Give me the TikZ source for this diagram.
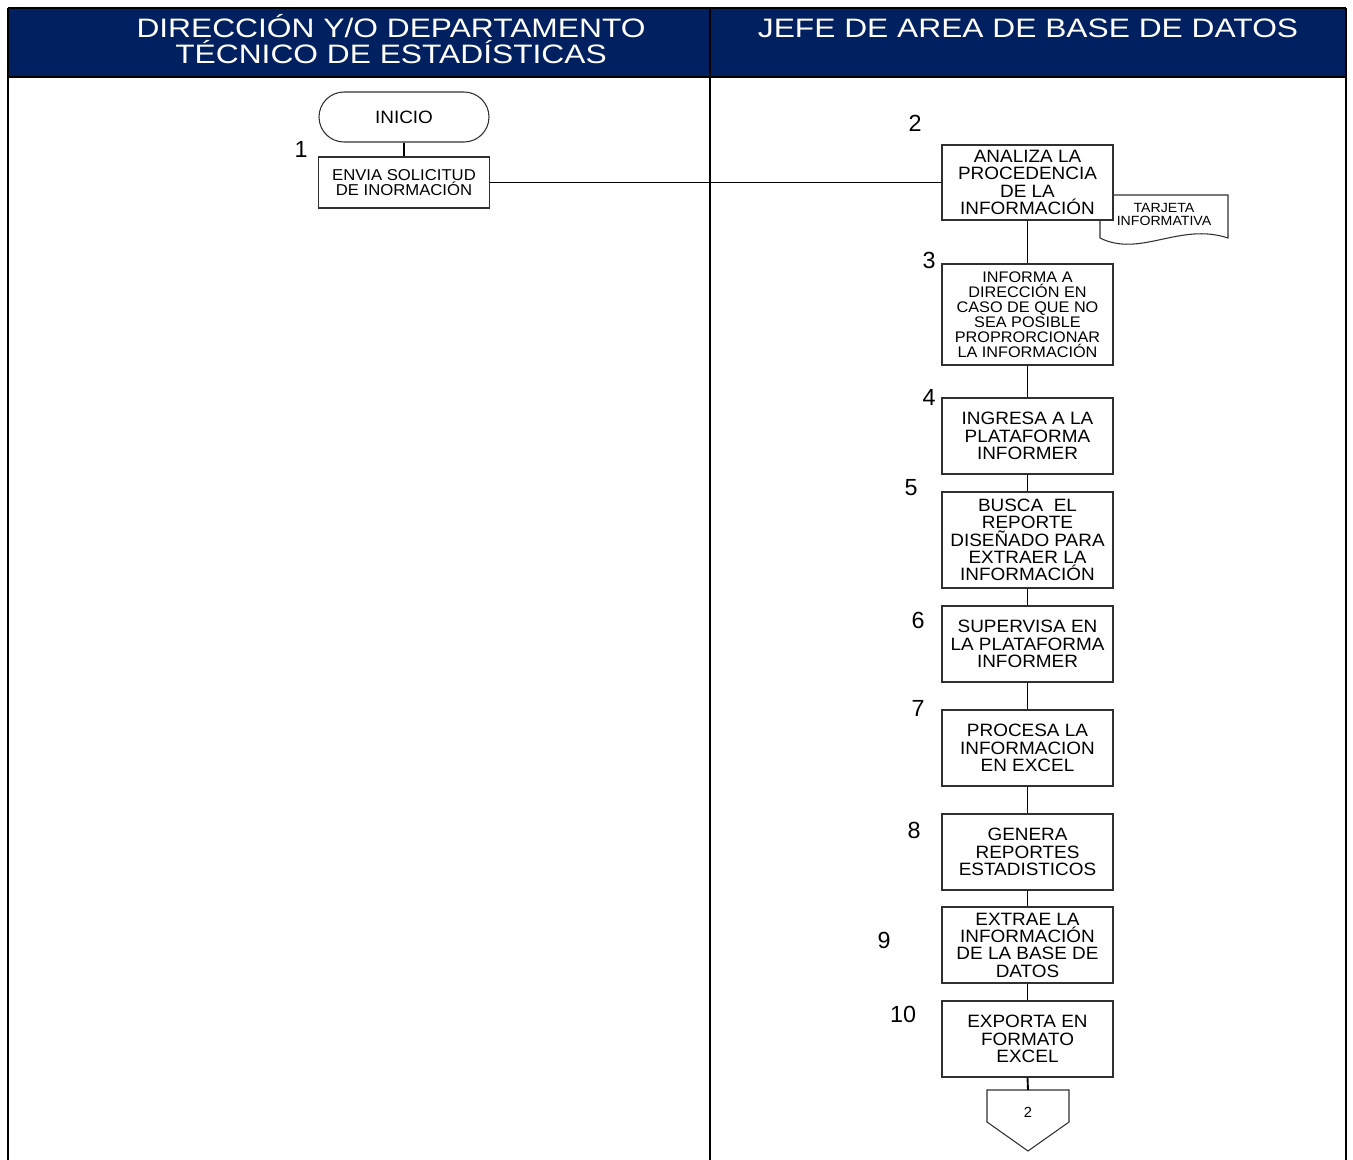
\documentclass[tikz,border=0pt]{standalone}
\usepackage{fontspec}
\setmainfont{Liberation Sans}
\newfontfamily\hdrfont[FakeStretch=1.19]{Liberation Sans}
\newfontfamily\boxfont[FakeStretch=1.06]{Liberation Sans}
\definecolor{navy}{HTML}{002060}
\definecolor{boxline}{HTML}{303030}
\begin{document}
\begin{tikzpicture}[x=0.75pt,y=-0.75pt,
  lane/.style={line width=1.6pt,draw=black},
  conn/.style={line width=1.4pt,draw=black},
  stepbox/.style={draw=boxline,line width=0.8pt,fill=white,minimum width=171*0.75pt,inner sep=0pt,align=center,font=\boxfont\fontsize{13.4}{13}\selectfont},
  numlabel/.style={inner sep=0pt,font=\fontsize{17.5}{17.5}\selectfont},
  hdr/.style={text=white,align=center,inner sep=0pt,font=\hdrfont\fontsize{20}{19.5}\selectfont}]
\useasboundingbox (0,0) rectangle (1353,1160);
% header
\fill[navy] (8,8) rectangle (1346,77);
\draw[lane] (8,8) -- (1346,8);
\draw[lane] (8,77) -- (1346,77);
\draw[lane] (8,8) -- (8,1160);
\draw[lane] (710,8) -- (710,1160);
\draw[lane] (1346,8) -- (1346,1160);
\node[hdr,anchor=base] (h1) at (391,63) {DIRECCIÓN Y/O DEPARTAMENTO\\TÉCNICO DE ESTADÍSTICAS};
\node[hdr,anchor=base] (h2) at (1028,37) {JEFE DE AREA DE BASE DE DATOS};
% left lane
\node[draw=boxline,line width=0.8pt,rounded corners=25*0.75pt,minimum width=170*0.75pt,minimum height=50*0.75pt,inner sep=0pt,font=\boxfont\fontsize{13.4}{13}\selectfont] (inicio) at (404,117) {INICIO};
\node[stepbox,minimum height=51*0.75pt,font=\boxfont\fontsize{11.8}{11.25}\selectfont] (b1) at (404,182.5) {ENVIA SOLICITUD\\DE INORMACIÓN};
\node[numlabel] (n1) at (301,149) {1};
% document
\draw[draw=boxline,line width=0.8pt,fill=white] (1100,238) -- (1100,195) -- (1228,195) -- (1228,238) .. controls (1180,222) and (1140,258) .. (1100,238);
\node[inner sep=0pt,align=center,font=\boxfont\fontsize{10}{9.75}\selectfont] (doc) at (1164,214) {TARJETA\\INFORMATIVA};
% right lane
\node[stepbox,minimum height=75*0.75pt] (b2) at (1027.5,182.5) {ANALIZA LA\\PROCEDENCIA\\DE LA\\INFORMACIÓN};
\node[stepbox,minimum height=101*0.75pt,font=\boxfont\fontsize{11.5}{11.25}\selectfont] (b3) at (1027.5,314.5) {INFORMA A\\DIRECCIÓN EN\\CASO DE QUE NO\\SEA POSIBLE\\PROPRORCIONAR\\LA INFORMACIÓN};
\node[stepbox,minimum height=76*0.75pt] (b4) at (1027.5,436) {INGRESA A LA\\PLATAFORMA\\INFORMER};
\node[stepbox,minimum height=96*0.75pt] (b5) at (1027.5,540) {BUSCA\ \ EL\\REPORTE\\DISEÑADO PARA\\EXTRAER LA\\INFORMACIÓN};
\node[stepbox,minimum height=76*0.75pt] (b6) at (1027.5,644) {SUPERVISA EN\\LA PLATAFORMA\\INFORMER};
\node[stepbox,minimum height=76*0.75pt] (b7) at (1027.5,748) {PROCESA LA\\INFORMACION\\EN EXCEL};
\node[stepbox,minimum height=76*0.75pt] (b8) at (1027.5,852) {GENERA\\REPORTES\\ESTADISTICOS};
\node[stepbox,minimum height=76*0.75pt] (b9) at (1027.5,945) {EXTRAE LA\\INFORMACIÓN\\DE LA BASE DE\\DATOS};
\node[stepbox,minimum height=76*0.75pt] (b10) at (1027.5,1039) {EXPORTA EN\\FORMATO\\EXCEL};
% off-page connector
\draw[draw=boxline,line width=0.8pt] (987,1090) coordinate (op) -- (1069,1090) -- (1069,1122) -- (1028,1151) -- (987,1122) -- cycle;
\coordinate (optop) at (1028,1090);
\node[inner sep=0pt,font=\fontsize{11}{11}\selectfont] (opl) at (1028,1112) {2};
% numbers
\node[numlabel] (n2) at (915,123) {2};
\node[numlabel] (n3) at (929,260) {3};
\node[numlabel] (n4) at (929,397) {4};
\node[numlabel] (n5) at (911,488) {5};
\node[numlabel] (n6) at (918,620) {6};
\node[numlabel] (n7) at (918,708) {7};
\node[numlabel] (n8) at (914,830) {8};
\node[numlabel] (n9) at (884,940) {9};
\node[numlabel] (n10) at (903,1014) {10};
% connectors
\draw[conn] (inicio.south) -- (b1.north);
\draw[line width=0.8pt] (b1.east) -- (b2.west);
\draw[conn] (b2.south) -- (b3.north);
\draw[conn] (b3.south) -- (b4.north);
\draw[conn] (b4.south) -- (b5.north);
\draw[conn] (b5.south) -- (b6.north);
\draw[conn] (b6.south) -- (b7.north);
\draw[conn] (b7.south) -- (b8.north);
\draw[conn] (b8.south) -- (b9.north);
\draw[conn] (b9.south) -- (b10.north);
\draw[conn] (b10.south) -- (optop);
\end{tikzpicture}
\end{document}
